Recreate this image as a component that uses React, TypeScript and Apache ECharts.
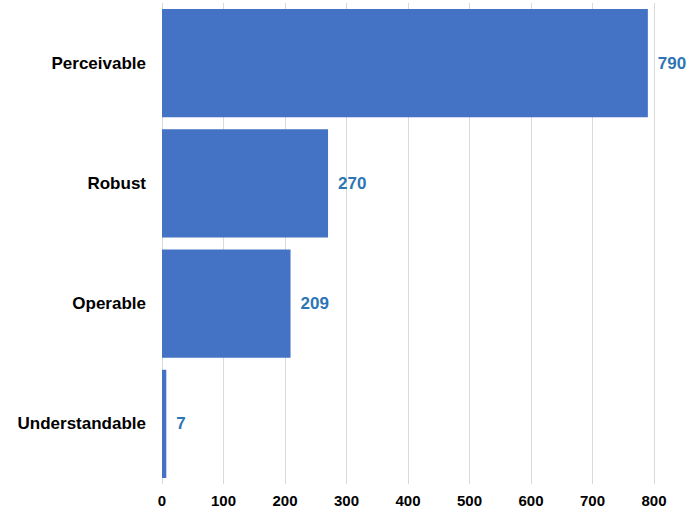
import React, { useEffect, useRef } from "react";
import * as echarts from "echarts";

const categories = ["Understandable", "Operable", "Robust", "Perceivable"];
const values = [7, 209, 270, 790];
const xTicks = { min: 0, max: 800, interval: 100 };

export default function App() {
  const ref = useRef<HTMLDivElement>(null);
  useEffect(() => {
    if (!ref.current) return;
    const chart = echarts.init(ref.current, null, { renderer: "svg" });
    chart.setOption({
      animation: false,
      backgroundColor: "#ffffff",
      grid: { left: 162, width: 492, top: 3, bottom: 32, containLabel: false },
      xAxis: {
        type: "value",
        min: xTicks.min,
        max: xTicks.max,
        interval: xTicks.interval,
        axisLine: { show: false },
        axisTick: { show: false },
        splitLine: { show: true, lineStyle: { color: "#d9d9d9", width: 1 } },
        axisLabel: {
          color: "#000000",
          fontFamily: "Liberation Sans, Arial, sans-serif",
          fontWeight: "bold",
          fontSize: 15,
          margin: 9,
        },
      },
      yAxis: {
        type: "category",
        data: categories,
        axisLine: { show: false },
        axisTick: { show: false },
        splitLine: { show: false },
        axisLabel: {
          color: "#000000",
          fontFamily: "Liberation Sans, Arial, sans-serif",
          fontWeight: "bold",
          fontSize: 17,
          margin: 16,
        },
      },
      series: [
        {
          type: "bar",
          data: values,
          barCategoryGap: "10%",
          itemStyle: { color: "#4472C4" },
          label: {
            show: true,
            position: "right",
            distance: 10,
            color: "#2E75B6",
            fontFamily: "Liberation Sans, Arial, sans-serif",
            fontWeight: "bold",
            fontSize: 17,
          },
        },
      ],
    });
    return () => chart.dispose();
  }, []);
  return (
    <div
      ref={ref}
      style={{ position: "fixed", left: 0, top: 0, width: 692, height: 516 }}
    />
  );
}
